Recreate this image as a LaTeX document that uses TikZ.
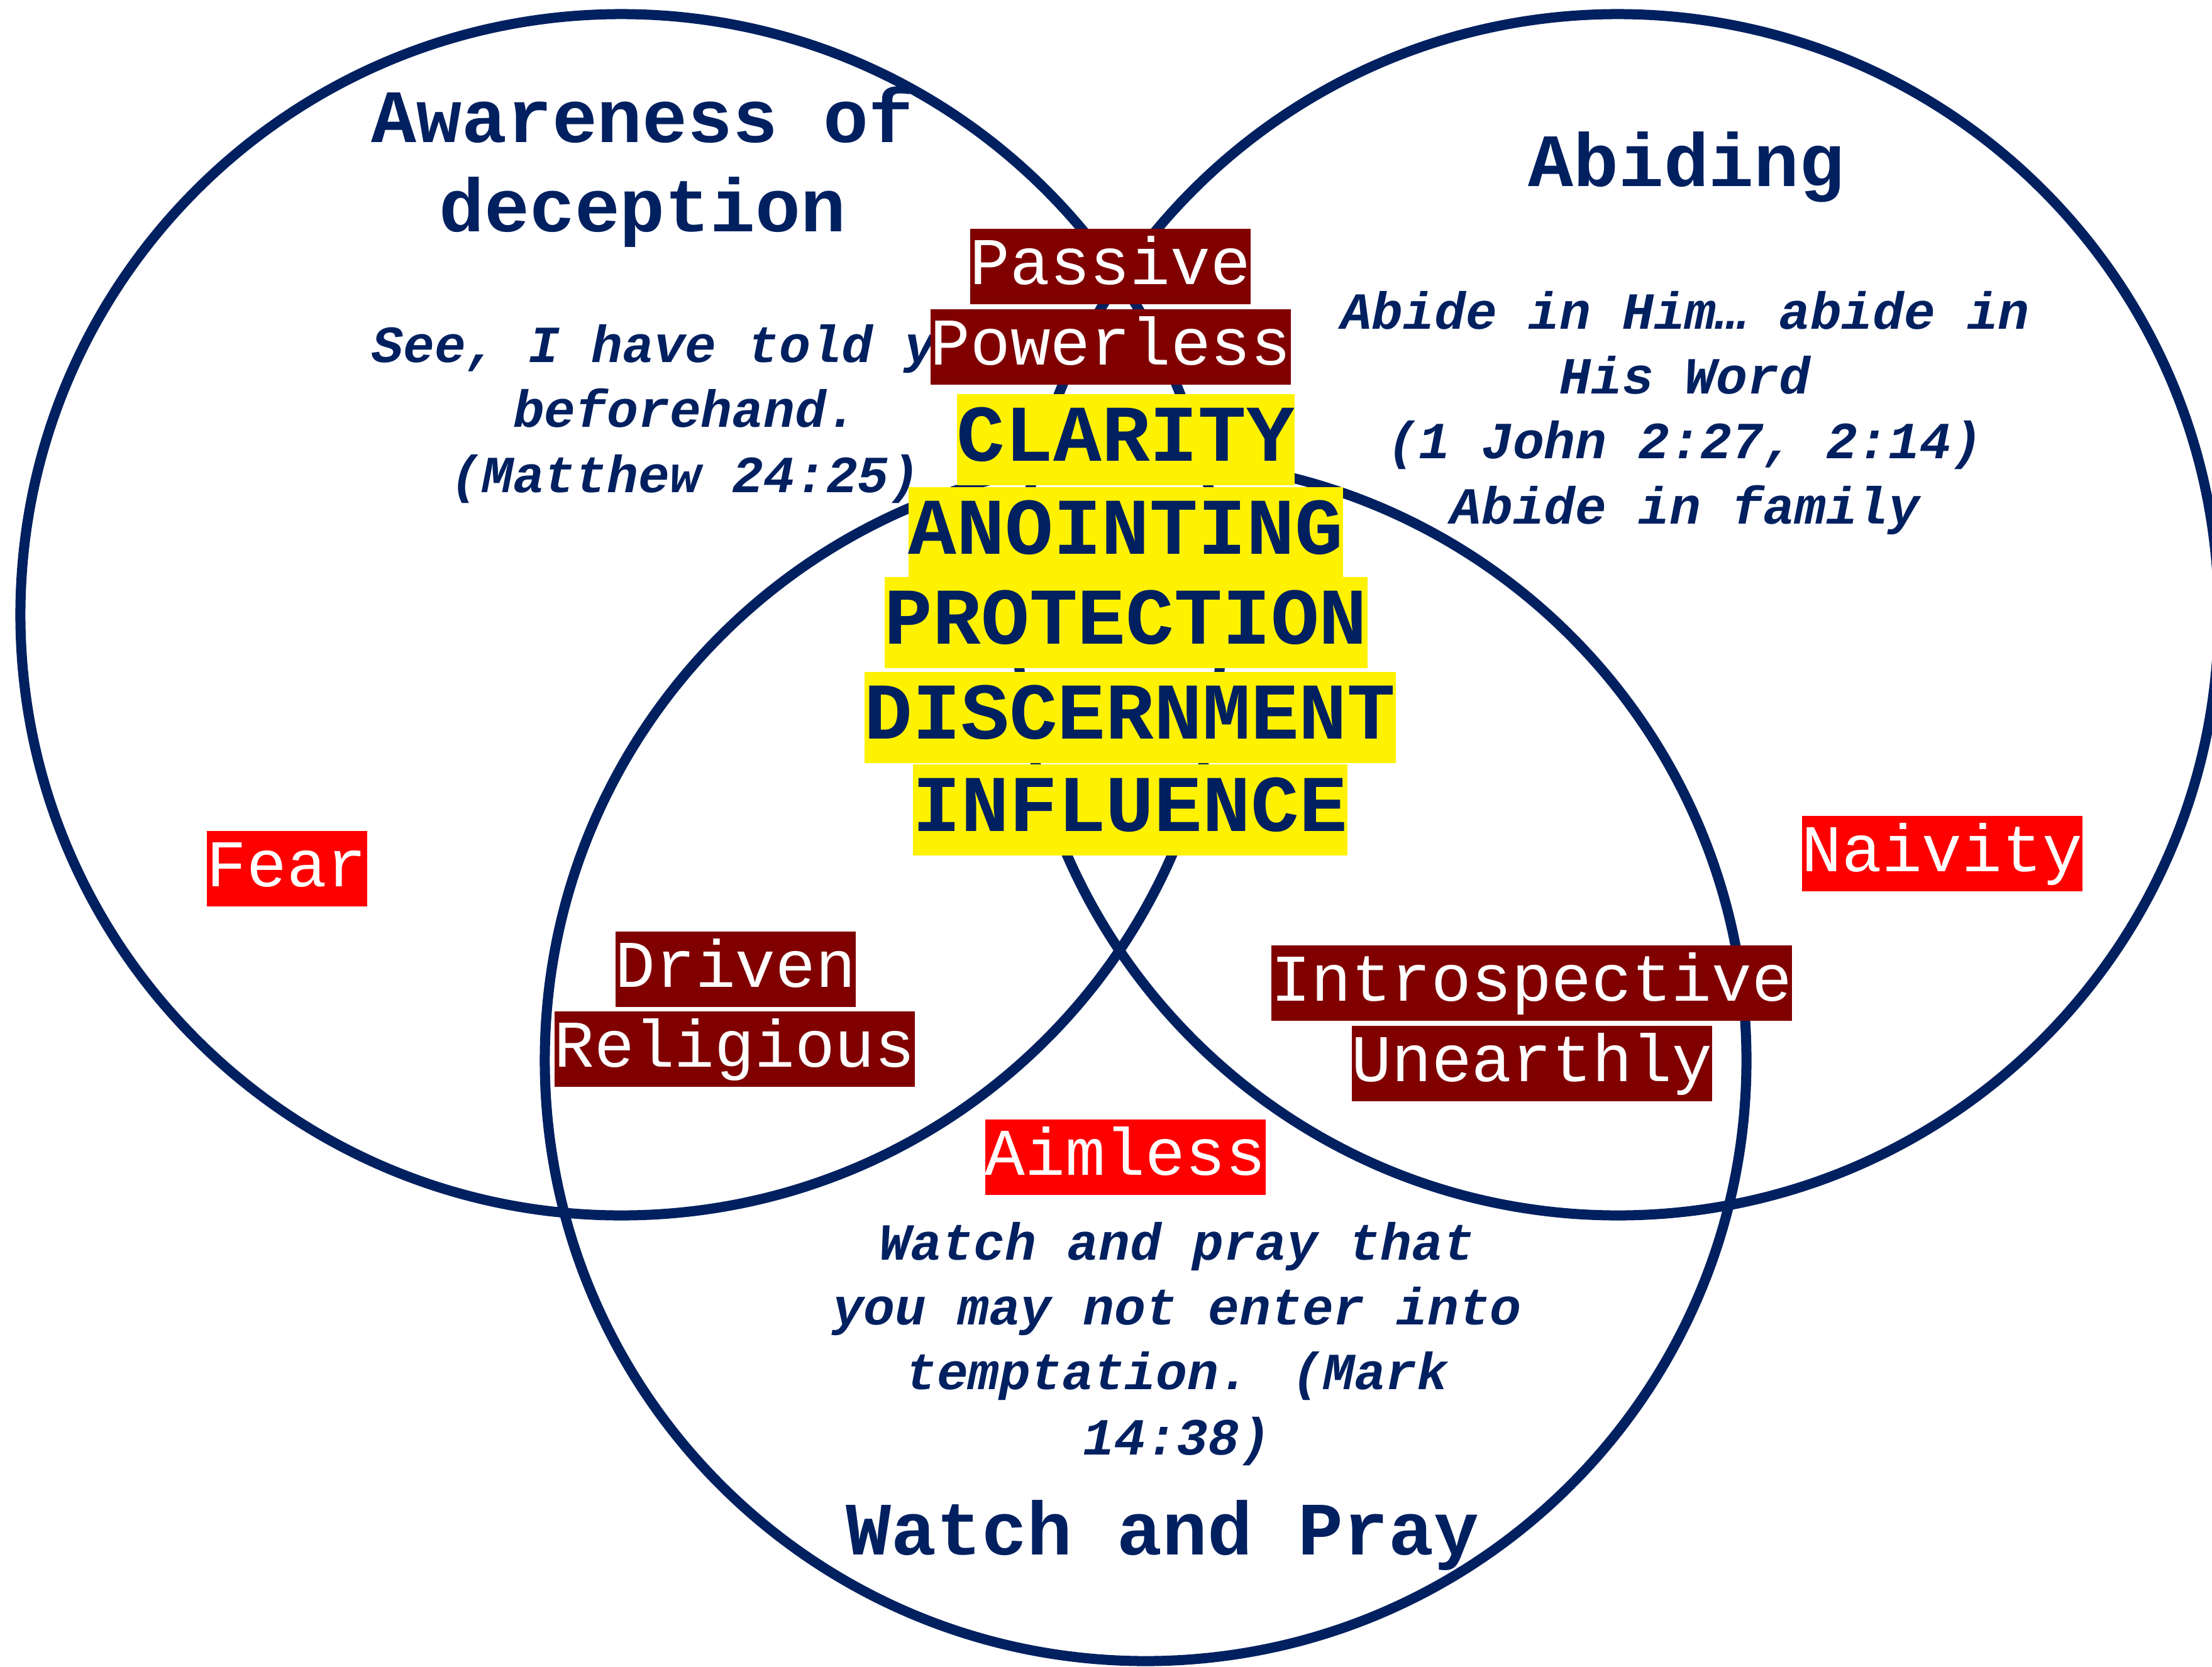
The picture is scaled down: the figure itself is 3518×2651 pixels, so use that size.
\documentclass[tikz,border=0pt]{standalone}
\usepackage{fontspec}
\newfontfamily\courfont{Liberation Mono}
\definecolor{navy}{RGB}{0,32,96}
\definecolor{maroonbox}{RGB}{128,0,0}
\tikzstyle{ring}=[draw=navy,line width=0.16cm]
\tikzstyle{heading}=[text=navy,font=\courfont\bfseries\fontsize{34.1}{40.1}\selectfont,align=center,anchor=base,inner sep=0pt]
\tikzstyle{verse}=[text=navy,font=\courfont\bfseries\itshape\fontsize{23.6}{29.3}\selectfont,align=center,anchor=base,inner sep=0pt]
\tikzstyle{tag}=[text=white,font=\courfont\fontsize{30.2}{30.2}\selectfont,inner sep=0pt,text height=0.883cm,text depth=0.318cm,anchor=north west]
\tikzstyle{weak}=[tag,fill=maroonbox]
\tikzstyle{danger}=[tag,fill=red]
\tikzstyle{gift}=[text=navy,fill=yellow,font=\courfont\bfseries\fontsize{36.4}{36.4}\selectfont,inner sep=0pt,text height=1.066cm,text depth=0.384cm,anchor=north west]

\begin{document}
\begin{tikzpicture}[x=0.01cm,y=-0.01cm]
	\useasboundingbox (0,0) rectangle (3518,2651);
	
	% the three circles
	\draw[ring] (988,978) circle (9.55cm);
	\draw[ring] (2573,978) circle (9.55cm);
	\draw[ring] (1822,1687) circle (9.55cm);
	
	% headings (base = last line)
	\node[heading] (aware) at (1022,368) {Awareness of\\deception};
	\node[heading] (abide) at (2682,296) {Abiding};
	\node[heading] (watch) at (1849,2473) {Watch and Pray};
	
	% verses
	\node[verse] (matt) at (1090,783) {See, I have told you\\beforehand.\\(Matthew 24:25)};
	\node[verse] (john) at (2680,833) {Abide in Him… abide in\\His Word\\(1 John 2:27, 2:14)\\Abide in family};
	\node[verse] (mark) at (1872,2314) {Watch and pray that\\you may not enter into\\temptation. (Mark\\14:38)};
	
	% weak spots
	\node[danger] (fear) at (328,1321) {Fear};
	\node[danger] (naive) at (2865,1297) {Naivity};
	\node[danger] (aim) at (1566,1780) {Aimless};
	\node[weak] (passive) at (1542,363) {Passive};
	\node[weak] (power) at (1479,491) {Powerless};
	\node[weak] (driven) at (978,1481) {Driven};
	\node[weak] (relig) at (881,1608) {Religious};
	\node[weak] (intro) at (2021,1503) {Introspective};
	\node[weak] (unearth) at (2149,1631) {Unearthly};
	
	% the middle
	\node[gift] (clar) at (1521,626) {CLARITY};
	\node[gift] (anoint) at (1444,774) {ANOINTING};
	\node[gift] (protect) at (1406,917) {PROTECTION};
	\node[gift] (discern) at (1374,1068) {DISCERNMENT};
	\node[gift] (infl) at (1451,1215) {INFLUENCE};
\end{tikzpicture}
\end{document}
